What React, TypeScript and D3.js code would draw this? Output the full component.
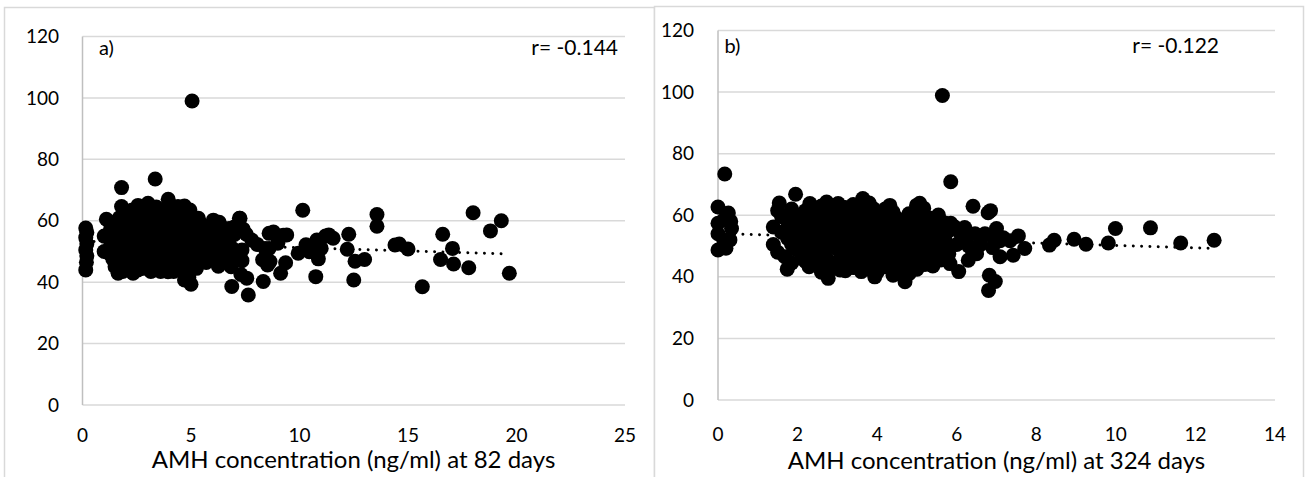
import React from "react";
import * as d3 from "d3";

// ---------- DATA ----------
const yTicks = [0, 20, 40, 60, 80, 100, 120];
const xTicksA = [0, 5, 10, 15, 20, 25];
const xTicksB = [0, 2, 4, 6, 8, 10, 12, 14];

const titleA = "AMH concentration (ng/ml) at 82 days";
const titleB = "AMH concentration (ng/ml) at 324 days";
const tagA = "a)";
const tagB = "b)";
const corrA = "r= -0.144";
const corrB = "r= -0.122";

// linear trendline end points [x, y]
const trendA: [number, number][] = [[0.15, 53.3], [19.67, 49.2]];
const trendB: [number, number][] = [[0.0, 54.1], [12.47, 49.2]];

// panel a: AMH at 82 days vs y
const pointsA: [number, number][] = [
  [5.05, 99], [3.35, 73.6], [1.8, 70.8], [3.95, 67.0],
  [10.15, 63.4], [13.57, 62.0], [13.57, 58.2], [18.0, 62.6], [19.3, 60.0], [18.8, 56.7], [16.6, 55.6],
  [17.05, 51.0], [16.5, 47.4], [17.1, 45.9], [17.8, 44.7], [19.67, 42.9], [15.66, 38.5], [15.0, 50.8],
  [14.4, 52.1], [14.6, 52.4],
  [12.27, 55.6], [12.2, 50.7], [12.56, 46.8], [13.0, 47.4], [12.5, 40.7],
  [10.75, 41.8], [10.87, 47.6], [9.94, 49.4], [10.45, 49.9], [10.3, 52.2], [10.8, 53.7], [11.0, 51.0],
  [11.35, 55.4], [11.55, 54.3], [11.2, 55.0],
  [9.13, 42.9], [9.36, 46.3], [9.41, 55.4], [8.8, 56.3], [9.25, 55.3], [9.0, 52.7], [8.6, 51.0],
  [8.33, 40.2], [7.64, 35.8], [6.88, 38.6], [7.57, 41.3], [7.3, 42.5], [8.41, 51.0], [8.64, 46.7],
  [8.3, 47.3], [8.53, 45.6], [7.8, 53.7], [7.26, 60.8], [7.41, 57.2], [7.55, 55.6], [8.05, 52.3], [8.6, 55.9],
  [0.15, 44.0], [0.18, 46.5], [0.2, 48.5], [0.15, 50.5], [0.2, 52.5], [0.15, 54.5], [0.2, 56.2], [0.15, 57.6],
  [1.0, 50.0], [1.0, 55.0], [1.1, 60.5], [1.3, 57.5], [1.3, 52.0], [1.4, 47.5], [1.64, 42.9],
  [1.8, 64.6], [1.7, 61.0], [1.9, 58.0], [1.7, 55.0], [1.9, 52.0], [1.7, 49.0], [1.9, 46.0], [2.1, 44.0],
  [2.2, 61.0], [2.2, 56.0], [2.15, 49.5],
  [2.33, 42.9], [2.56, 65.0], [2.4, 62.0], [2.6, 59.0], [2.4, 55.5], [2.7, 53.0], [2.4, 50.0], [2.6, 47.0],
  [2.8, 44.5], [2.9, 61.0], [2.9, 56.5], [2.9, 50.0],
  [3.02, 65.7], [3.2, 63.0], [3.3, 59.0], [3.1, 54.0], [3.4, 52.0], [3.2, 48.0], [3.33, 44.0], [3.5, 62.0],
  [3.6, 56.0], [3.6, 49.0], [3.7, 45.5],
  [3.94, 43.4], [3.9, 60.0], [4.0, 55.0], [4.1, 51.0], [3.9, 47.0], [4.2, 63.0], [4.3, 58.0], [4.4, 53.0],
  [4.3, 48.0], [4.4, 44.5], [4.4, 64.6], [4.6, 61.0], [4.7, 64.8],
  [4.7, 40.7], [4.95, 63.5], [4.7, 56.0], [4.8, 52.0], [4.6, 49.0], [4.9, 45.0], [5.0, 39.3], [4.9, 41.5],
  [5.1, 59.0], [5.2, 54.0], [5.1, 50.0], [5.3, 46.5],
  [5.34, 60.8], [5.6, 57.0], [5.5, 52.5], [5.7, 49.0], [5.7, 46.4], [5.9, 55.0], [6.03, 60.2], [6.1, 51.0],
  [6.26, 45.2], [6.2, 57.0],
  [6.4, 53.5], [6.6, 48.5], [6.5, 57.5], [6.8, 55.0], [6.9, 51.0], [6.7, 46.4], [7.0, 58.0], [7.1, 49.0],
  [7.23, 60.8], [6.3, 59.5],
  // inner blob
  [1.2, 54.5], [1.2, 49.5], [1.5, 45.0], [1.5, 50.0], [1.5, 55.0], [1.5, 59.5],
  [1.85, 43.5], [1.85, 49.5], [1.85, 55.5], [1.85, 61.5], [2.0, 47.5], [2.0, 53.5], [2.0, 59.5], [2.0, 63.0],
  [2.3, 45.5], [2.3, 52.5], [2.3, 58.5], [2.3, 63.5], [2.55, 44.0], [2.55, 50.5], [2.55, 55.5], [2.55, 61.5],
  [2.75, 47.5], [2.75, 58.0], [2.75, 63.5], [3.0, 45.0], [3.0, 52.0], [3.0, 58.5], [3.0, 62.5],
  [3.15, 43.5], [3.15, 50.0], [3.15, 56.0], [3.4, 46.0], [3.4, 55.5], [3.4, 61.5], [3.4, 64.5],
  [3.6, 43.5], [3.6, 52.5], [3.6, 59.0], [3.8, 50.0], [3.8, 57.0], [3.8, 63.5],
  [4.05, 45.5], [4.05, 52.5], [4.05, 58.0], [4.05, 62.0], [4.2, 43.5], [4.2, 49.5], [4.2, 55.5], [4.2, 60.5],
  [4.55, 46.5], [4.55, 51.5], [4.55, 57.5], [4.75, 43.0], [4.75, 54.0], [4.75, 59.5],
  [5.0, 47.5], [5.0, 57.0], [5.0, 61.5], [5.25, 44.5], [5.25, 51.5], [5.25, 56.5],
  [5.45, 48.5], [5.45, 55.0], [5.45, 59.0], [5.65, 51.0], [5.65, 54.5],
  [5.85, 47.5], [5.85, 52.0], [5.85, 57.5], [6.05, 48.5], [6.05, 54.0], [6.05, 58.0],
  [6.3, 47.5], [6.3, 50.5], [6.3, 55.0], [6.55, 51.0], [6.55, 54.5],
  [6.75, 49.0], [6.75, 52.5], [6.75, 57.5], [7.0, 47.0], [7.0, 55.5], [7.35, 47.0], [7.35, 50.5], [6.85, 45.0],
];

// panel b: AMH at 324 days vs y
const pointsB: [number, number][] = [
  [5.64, 98.9], [0.17, 73.4], [5.85, 70.9], [1.95, 66.8],
  [0.0, 62.7], [0.26, 60.7], [0.0, 57.4], [0.34, 55.7], [0.0, 54.0], [0.3, 52.0], [0.0, 48.7], [0.2, 49.3],
  [0.15, 58.5], [0.15, 51.5], [0.32, 58.0],
  [8.33, 50.3], [8.45, 51.9], [8.95, 52.2], [9.25, 50.6], [9.81, 51.0], [9.99, 55.7], [10.87, 55.9],
  [11.63, 51.0], [12.47, 51.9],
  [6.41, 62.9], [6.79, 60.8], [6.85, 61.5], [7.0, 55.7], [7.55, 53.3], [7.71, 49.2], [7.42, 47.0], [7.09, 46.5],
  [6.82, 40.5], [6.97, 38.5], [6.8, 35.6], [6.29, 45.4], [6.05, 41.7], [6.46, 54.0], [6.71, 54.0], [7.17, 52.7],
  [7.34, 51.7], [7.09, 51.7], [6.1, 54.0], [5.95, 56.2], [5.83, 44.3], [5.8, 47.5], [6.0, 50.5], [6.3, 50.0],
  [6.6, 50.5], [6.5, 47.5],
  [1.39, 56.2], [1.39, 50.5], [1.54, 64.0], [1.6, 59.5], [1.73, 58.4], [1.68, 46.5], [1.74, 42.5], [1.75, 52.5],
  [1.6, 54.5],
  [1.95, 49.0], [1.95, 55.5], [1.97, 60.1], [2.1, 46.0], [2.1, 52.0], [2.15, 57.5],
  [2.31, 63.8], [2.29, 43.3], [2.3, 48.5], [2.3, 54.5], [2.35, 59.5], [2.52, 43.9], [2.5, 51.0], [2.5, 56.5],
  [2.5, 61.5],
  [2.73, 64.3], [2.77, 39.5], [2.7, 46.5], [2.7, 53.0], [2.7, 58.5], [2.9, 43.0], [2.9, 50.0], [2.9, 55.5],
  [2.9, 61.0],
  [3.02, 63.8], [3.07, 42.2], [3.1, 47.0], [3.1, 52.5], [3.1, 58.0], [3.3, 44.5], [3.3, 50.0], [3.3, 55.0],
  [3.3, 60.5],
  [3.44, 61.7], [3.5, 47.0], [3.5, 52.5], [3.5, 57.5], [3.64, 65.4], [3.6, 41.7], [3.7, 44.5], [3.7, 50.0],
  [3.7, 55.0], [3.74, 60.5],
  [3.9, 62.2], [3.94, 40.0], [3.9, 46.5], [3.9, 52.5], [3.9, 57.5], [4.1, 43.5], [4.1, 49.5], [4.1, 55.0],
  [4.1, 60.0],
  [4.32, 63.2], [4.24, 43.2], [4.3, 46.5], [4.3, 52.0], [4.3, 57.5], [4.4, 40.5], [4.5, 49.0], [4.5, 54.5],
  [4.5, 59.0],
  [4.7, 38.4], [4.7, 44.0], [4.7, 51.5], [4.7, 57.0], [4.9, 47.0], [4.9, 54.0], [4.9, 59.5], [5.08, 44.3],
  [5.07, 63.9], [5.17, 62.3], [4.99, 63.2],
  [5.1, 50.5], [5.1, 56.5], [5.3, 47.5], [5.3, 53.0], [5.37, 45.4], [5.35, 59.0], [5.54, 60.1], [5.5, 50.0],
  [5.5, 55.5], [5.7, 52.5], [5.7, 57.5], [5.85, 57.4],
  // inner blob
  [1.5, 48.0], [1.5, 61.5], [1.85, 44.5], [1.85, 50.5], [1.85, 56.5], [1.85, 62.0], [2.05, 54.0], [2.05, 59.0],
  [2.2, 45.0], [2.2, 51.0], [2.2, 56.0], [2.2, 61.5], [2.4, 47.0], [2.4, 53.0], [2.4, 57.5],
  [2.6, 41.5], [2.6, 49.0], [2.6, 55.0], [2.6, 60.0], [2.6, 63.0], [2.8, 45.0], [2.8, 51.5], [2.8, 57.0], [2.8, 62.5],
  [3.0, 44.5], [3.0, 49.0], [3.0, 54.0], [3.0, 59.5], [3.2, 42.0], [3.2, 46.0], [3.2, 52.0], [3.2, 57.5], [3.2, 62.5],
  [3.4, 43.0], [3.4, 48.0], [3.4, 53.0], [3.4, 58.5], [3.4, 63.5], [3.6, 46.0], [3.6, 51.5], [3.6, 56.0], [3.6, 61.5],
  [3.8, 42.5], [3.8, 48.0], [3.8, 54.0], [3.8, 59.0], [3.8, 64.0], [4.0, 41.5], [4.0, 45.0], [4.0, 51.0], [4.0, 56.5],
  [4.0, 61.0], [4.2, 47.5], [4.2, 53.5], [4.2, 58.5], [4.2, 62.0], [4.4, 44.5], [4.4, 50.5], [4.4, 56.0], [4.4, 61.0],
  [4.6, 42.0], [4.6, 46.5], [4.6, 52.5], [4.6, 58.0], [4.8, 41.0], [4.8, 45.0], [4.8, 49.5], [4.8, 55.5], [4.8, 60.5],
  [5.0, 42.5], [5.0, 46.0], [5.0, 52.0], [5.0, 57.5], [5.0, 61.5], [5.2, 44.0], [5.2, 48.5], [5.2, 54.5], [5.2, 59.5],
  [5.4, 43.5], [5.4, 47.0], [5.4, 51.5], [5.4, 56.5], [5.6, 45.5], [5.6, 49.0], [5.6, 53.5], [5.6, 58.0],
  [5.8, 50.0], [5.8, 55.0], [6.2, 52.5], [6.2, 56.0], [6.4, 48.5], [6.9, 49.5], [6.9, 53.0],
];

// ---------- LAYOUT ----------
const FONT = "Lato, 'Liberation Sans', Arial, sans-serif";
const GRID = "#d9d9d9";
const R = 7.5;

type PanelCfg = {
  points: [number, number][];
  trend: [number, number][];
  xDomain: [number, number];
  xTicks: number[];
  left: number; right: number; top: number; bottom: number;
  tag: string; corr: string; title: string;
  tagX: number; corrX: number; labelY: number;
  xTickY: number; titleX: number; titleY: number; yLabelX: number;
  frame: [number, number, number];
};

const panels: PanelCfg[] = [
  {
    points: pointsA, trend: trendA, xDomain: [0, 25], xTicks: xTicksA,
    left: 82.5, right: 625, top: 36.5, bottom: 405,
    tag: tagA, corr: corrA, title: titleA,
    tagX: 99, corrX: 618, labelY: 55,
    xTickY: 442, titleX: 353.5, titleY: 468, yLabelX: 59,
    frame: [4.5, 7.5, 650],
  },
  {
    points: pointsB, trend: trendB, xDomain: [0, 14], xTicks: xTicksB,
    left: 718, right: 1275, top: 30.5, bottom: 400,
    tag: tagB, corr: corrB, title: titleB,
    tagX: 724.5, corrX: 1219, labelY: 53,
    xTickY: 440.5, titleX: 996.5, titleY: 469, yLabelX: 694,
    frame: [654.5, 6.5, 649],
  },
];

function Panel({ cfg }: { cfg: PanelCfg }) {
  const x = d3.scaleLinear().domain(cfg.xDomain).range([cfg.left, cfg.right]);
  const y = d3.scaleLinear().domain([0, 120]).range([cfg.bottom, cfg.top]);
  const line = d3.line<[number, number]>().x((d) => x(d[0])).y((d) => y(d[1]));
  const [fx, fy, fw] = cfg.frame;
  return (
    <g>
      <rect x={fx} y={fy} width={fw} height={500} fill="#fff" stroke={GRID} strokeWidth={1.5} />
      {yTicks.map((t) => (
        <line key={"g" + t} x1={cfg.left} x2={cfg.right} y1={y(t)} y2={y(t)} stroke={GRID} strokeWidth={1.5} />
      ))}
      <line x1={cfg.left} x2={cfg.left} y1={cfg.top} y2={cfg.bottom} stroke="#bfbfbf" strokeWidth={1.5} />
      {yTicks.map((t) => (
        <text key={"yl" + t} x={cfg.yLabelX} y={y(t)} dy="0.35em" textAnchor="end" fontSize={19} fontFamily={FONT} fill="#000">
          {t}
        </text>
      ))}
      {cfg.xTicks.map((t) => (
        <text key={"xl" + t} x={x(t)} y={cfg.xTickY} textAnchor="middle" fontSize={19} fontFamily={FONT} fill="#000">
          {t}
        </text>
      ))}
      {cfg.points.map((p, i) => (
        <circle key={"p" + i} cx={x(p[0])} cy={y(p[1])} r={R} fill="#000" />
      ))}
      <path d={line(cfg.trend) || ""} fill="none" stroke="#000" strokeWidth={3} strokeLinecap="round" strokeDasharray="0.01 8.3" />
      <text x={cfg.tagX} y={cfg.labelY} fontSize={20} fontFamily={FONT} fill="#000">{cfg.tag}</text>
      <text x={cfg.corrX} y={cfg.labelY} textAnchor="end" fontSize={21} fontFamily={FONT} fill="#000">{cfg.corr}</text>
      <text x={cfg.titleX} y={cfg.titleY} textAnchor="middle" fontSize={24} fontFamily={FONT} fill="#000">{cfg.title}</text>
    </g>
  );
}

export default function App() {
  return (
    <svg width={1306} height={477} style={{ position: "absolute", left: 0, top: 0, display: "block" }}>
      <rect x={0} y={0} width={1306} height={477} fill="#fff" />
      {panels.map((p, i) => (
        <Panel key={i} cfg={p} />
      ))}
    </svg>
  );
}
